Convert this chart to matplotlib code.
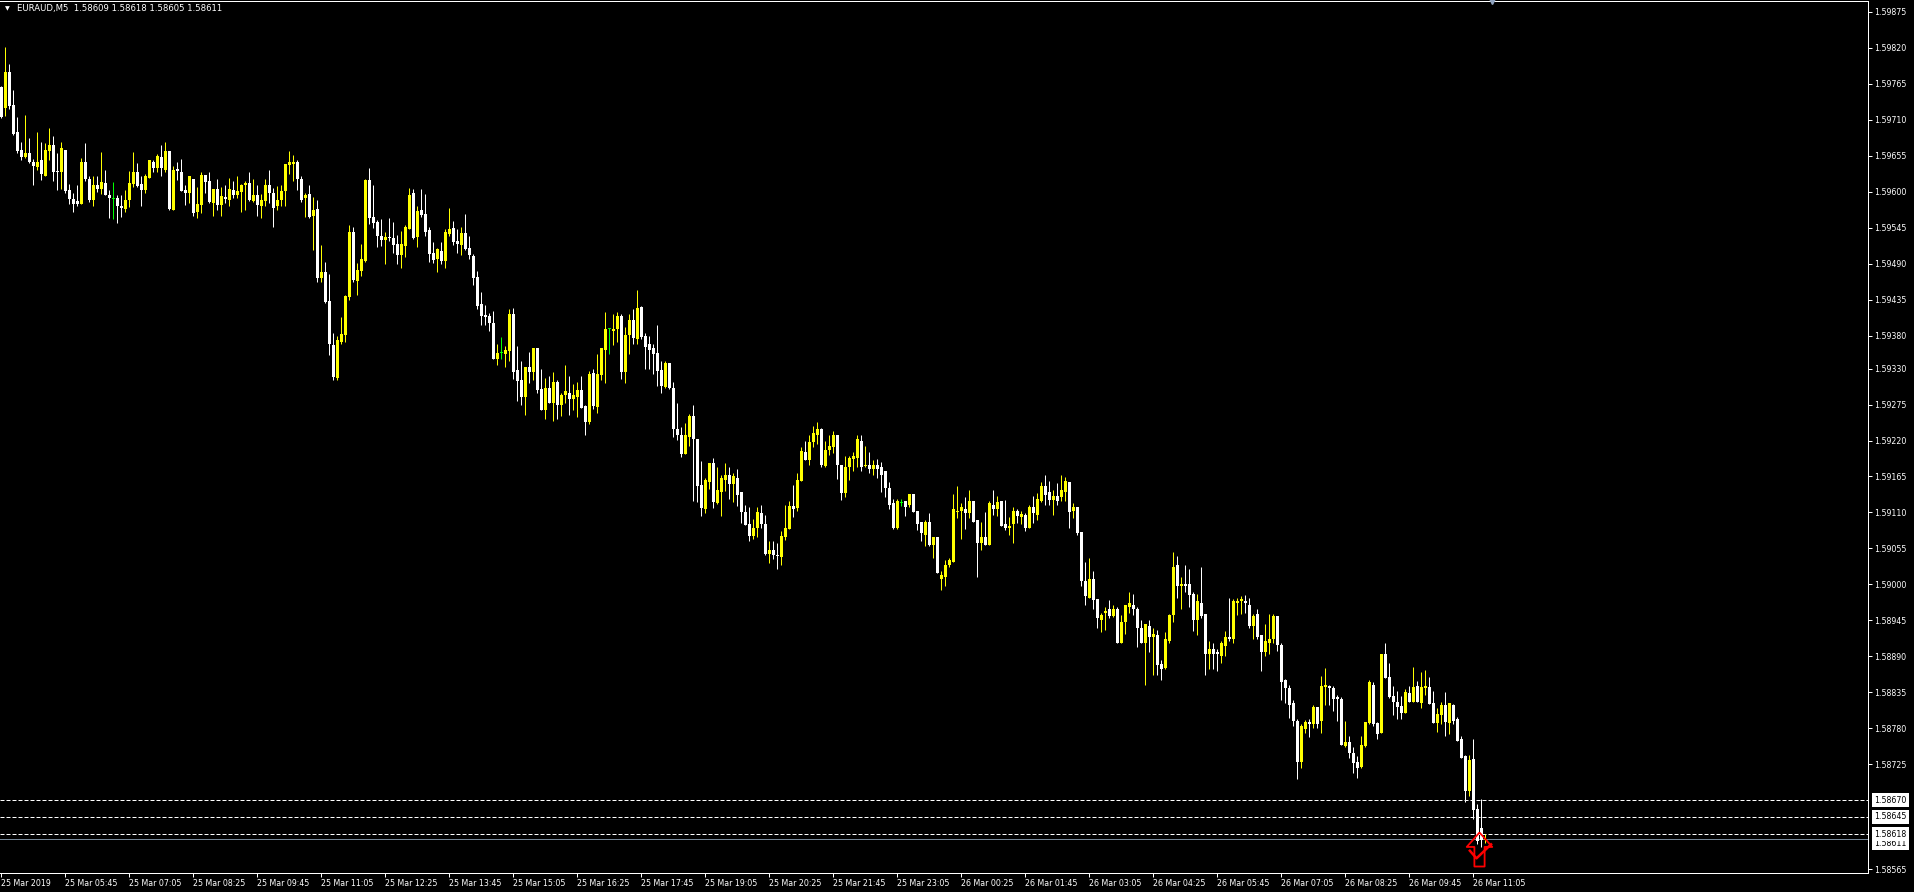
import numpy as np
import matplotlib
matplotlib.use("Agg")
import matplotlib.pyplot as plt
from matplotlib.path import Path

# EURAUD M5 bars, 25 Mar 04:25 .. 26 Mar 11:20
symbol = "EURAUD,M5"

opens = [
    1.59761, 1.59729, 1.59784, 1.59733, 1.59691, 1.59664, 1.59653, 1.59660, 1.59646, 1.59638,
    1.59648, 1.59625, 1.59663, 1.59671, 1.59632, 1.59630, 1.59664, 1.59603, 1.59589, 1.59586,
    1.59582, 1.59645, 1.59620, 1.59587, 1.59611, 1.59604, 1.59614, 1.59596, 1.59589, 1.59590,
    1.59579, 1.59574, 1.59588, 1.59612, 1.59631, 1.59612, 1.59603, 1.59621, 1.59646, 1.59636,
    1.59654, 1.59633, 1.59662, 1.59572, 1.59635, 1.59631, 1.59603, 1.59598, 1.59619, 1.59569,
    1.59580, 1.59626, 1.59617, 1.59583, 1.59605, 1.59580, 1.59592, 1.59588, 1.59603, 1.59595,
    1.59600, 1.59611, 1.59613, 1.59586, 1.59595, 1.59578, 1.59586, 1.59610, 1.59599, 1.59578,
    1.59587, 1.59602, 1.59641, 1.59642, 1.59645, 1.59620, 1.59590, 1.59597, 1.59563, 1.59574,
    1.59469, 1.59478, 1.59433, 1.59366, 1.59315, 1.59371, 1.59381, 1.59440, 1.59539, 1.59464,
    1.59479, 1.59494, 1.59618, 1.59562, 1.59554, 1.59533, 1.59527, 1.59531, 1.59529, 1.59521,
    1.59504, 1.59517, 1.59544, 1.59599, 1.59531, 1.59572, 1.59566, 1.59541, 1.59506, 1.59497,
    1.59510, 1.59494, 1.59536, 1.59545, 1.59525, 1.59519, 1.59537, 1.59514, 1.59502, 1.59470,
    1.59428, 1.59412, 1.59411, 1.59400, 1.59344, 1.59354, 1.59352, 1.59357, 1.59413, 1.59327,
    1.59312, 1.59287, 1.59333, 1.59324, 1.59361, 1.59298, 1.59267, 1.59301, 1.59277, 1.59310,
    1.59274, 1.59289, 1.59292, 1.59284, 1.59287, 1.59297, 1.59272, 1.59248, 1.59323, 1.59271,
    1.59320, 1.59358, 1.59390, 1.59387, 1.59391, 1.59410, 1.59325, 1.59382, 1.59404, 1.59375,
    1.59424, 1.59379, 1.59367, 1.59361, 1.59353, 1.59327, 1.59302, 1.59338, 1.59300, 1.59238,
    1.59228, 1.59200, 1.59226, 1.59258, 1.59222, 1.59152, 1.59115, 1.59157, 1.59185, 1.59124,
    1.59141, 1.59160, 1.59167, 1.59153, 1.59163, 1.59141, 1.59111, 1.59092, 1.59074, 1.59086,
    1.59109, 1.59093, 1.59047, 1.59053, 1.59045, 1.59042, 1.59072, 1.59084, 1.59120, 1.59117,
    1.59158, 1.59202, 1.59190, 1.59217, 1.59229, 1.59237, 1.59181, 1.59205, 1.59210, 1.59229,
    1.59183, 1.59139, 1.59179, 1.59192, 1.59193, 1.59220, 1.59181, 1.59183, 1.59176, 1.59182,
    1.59179, 1.59173, 1.59148, 1.59125, 1.59086, 1.59125, 1.59128, 1.59121, 1.59138, 1.59112,
    1.59095, 1.59076, 1.59095, 1.59061, 1.59072, 1.59008, 1.59012, 1.59030, 1.59035, 1.59110,
    1.59113, 1.59116, 1.59109, 1.59128, 1.59098, 1.59063, 1.59073, 1.59061, 1.59121, 1.59115,
    1.59127, 1.59092, 1.59086, 1.59092, 1.59112, 1.59103, 1.59106, 1.59087, 1.59118, 1.59106,
    1.59127, 1.59150, 1.59141, 1.59129, 1.59135, 1.59133, 1.59142, 1.59156, 1.59112, 1.59119,
    1.59080, 1.59005, 1.58980, 1.59008, 1.58977, 1.58945, 1.58956, 1.58963, 1.58951, 1.58963,
    1.58910, 1.58942, 1.58965, 1.58969, 1.58963, 1.58934, 1.58911, 1.58937, 1.58919, 1.58923,
    1.58879, 1.58872, 1.58913, 1.58954, 1.59029, 1.58998, 1.59001, 1.59000, 1.58986, 1.58946,
    1.58972, 1.58955, 1.58894, 1.58902, 1.58897, 1.58890, 1.58906, 1.58920, 1.58916, 1.58971,
    1.58974, 1.58975, 1.58969, 1.58936, 1.58955, 1.58922, 1.58897, 1.58910, 1.58916, 1.58951,
    1.58908, 1.58854, 1.58842, 1.58818, 1.58792, 1.58729, 1.58779, 1.58790, 1.58787, 1.58812,
    1.58791, 1.58843, 1.58844, 1.58841, 1.58828, 1.58825, 1.58753, 1.58759, 1.58743, 1.58728,
    1.58721, 1.58753, 1.58788, 1.58847, 1.58788, 1.58773, 1.58893, 1.58858, 1.58829, 1.58821,
    1.58814, 1.58803, 1.58834, 1.58820, 1.58844, 1.58818, 1.58841, 1.58843, 1.58818, 1.58788,
    1.58800, 1.58815, 1.58788, 1.58815, 1.58794, 1.58763, 1.58737, 1.58685, 1.58733, 1.58656,
    1.58628, 1.58609,
]

highs = [
    1.59762, 1.59822, 1.59796, 1.59756, 1.59715, 1.59677, 1.59718, 1.59683, 1.59651, 1.59692,
    1.59677, 1.59674, 1.59698, 1.59686, 1.59660, 1.59677, 1.59664, 1.59612, 1.59598, 1.59611,
    1.59652, 1.59674, 1.59624, 1.59624, 1.59625, 1.59661, 1.59633, 1.59603, 1.59615, 1.59595,
    1.59596, 1.59603, 1.59632, 1.59661, 1.59644, 1.59624, 1.59628, 1.59648, 1.59649, 1.59658,
    1.59671, 1.59677, 1.59662, 1.59640, 1.59646, 1.59651, 1.59610, 1.59625, 1.59620, 1.59608,
    1.59631, 1.59626, 1.59630, 1.59605, 1.59619, 1.59608, 1.59611, 1.59622, 1.59616, 1.59625,
    1.59612, 1.59616, 1.59631, 1.59619, 1.59610, 1.59597, 1.59620, 1.59634, 1.59606, 1.59609,
    1.59611, 1.59643, 1.59662, 1.59657, 1.59649, 1.59625, 1.59598, 1.59611, 1.59592, 1.59587,
    1.59519, 1.59493, 1.59474, 1.59384, 1.59379, 1.59409, 1.59443, 1.59549, 1.59547, 1.59492,
    1.59520, 1.59620, 1.59636, 1.59611, 1.59557, 1.59559, 1.59538, 1.59560, 1.59554, 1.59534,
    1.59540, 1.59549, 1.59606, 1.59604, 1.59579, 1.59604, 1.59597, 1.59547, 1.59524, 1.59514,
    1.59524, 1.59543, 1.59575, 1.59555, 1.59543, 1.59546, 1.59566, 1.59533, 1.59505, 1.59479,
    1.59447, 1.59427, 1.59415, 1.59418, 1.59367, 1.59378, 1.59364, 1.59421, 1.59422, 1.59365,
    1.59342, 1.59333, 1.59356, 1.59362, 1.59362, 1.59329, 1.59315, 1.59318, 1.59325, 1.59312,
    1.59292, 1.59336, 1.59318, 1.59307, 1.59309, 1.59318, 1.59274, 1.59326, 1.59330, 1.59352,
    1.59361, 1.59416, 1.59392, 1.59413, 1.59416, 1.59413, 1.59393, 1.59413, 1.59421, 1.59450,
    1.59425, 1.59384, 1.59379, 1.59367, 1.59396, 1.59341, 1.59341, 1.59338, 1.59309, 1.59278,
    1.59241, 1.59246, 1.59261, 1.59274, 1.59222, 1.59189, 1.59162, 1.59186, 1.59193, 1.59179,
    1.59168, 1.59186, 1.59180, 1.59171, 1.59176, 1.59141, 1.59121, 1.59119, 1.59100, 1.59118,
    1.59121, 1.59106, 1.59066, 1.59067, 1.59063, 1.59082, 1.59121, 1.59127, 1.59152, 1.59170,
    1.59210, 1.59219, 1.59229, 1.59242, 1.59248, 1.59239, 1.59219, 1.59229, 1.59234, 1.59229,
    1.59183, 1.59197, 1.59197, 1.59202, 1.59228, 1.59228, 1.59211, 1.59203, 1.59190, 1.59191,
    1.59187, 1.59173, 1.59157, 1.59131, 1.59130, 1.59131, 1.59128, 1.59138, 1.59138, 1.59113,
    1.59095, 1.59098, 1.59109, 1.59072, 1.59073, 1.59021, 1.59038, 1.59040, 1.59138, 1.59151,
    1.59124, 1.59134, 1.59144, 1.59128, 1.59098, 1.59095, 1.59110, 1.59128, 1.59144, 1.59135,
    1.59127, 1.59129, 1.59103, 1.59119, 1.59116, 1.59112, 1.59109, 1.59122, 1.59135, 1.59139,
    1.59156, 1.59168, 1.59158, 1.59145, 1.59155, 1.59167, 1.59164, 1.59156, 1.59124, 1.59119,
    1.59080, 1.59034, 1.59040, 1.59021, 1.58977, 1.58957, 1.58965, 1.58976, 1.58969, 1.58966,
    1.58953, 1.58968, 1.58989, 1.58986, 1.58966, 1.58946, 1.58940, 1.58946, 1.58934, 1.58931,
    1.58885, 1.58928, 1.58955, 1.59050, 1.59044, 1.59011, 1.59030, 1.59024, 1.58988, 1.58986,
    1.59027, 1.58955, 1.58914, 1.58911, 1.58902, 1.58914, 1.58929, 1.58980, 1.58978, 1.58980,
    1.58983, 1.58984, 1.58980, 1.58955, 1.58962, 1.58922, 1.58940, 1.58955, 1.58955, 1.58951,
    1.58910, 1.58856, 1.58847, 1.58824, 1.58795, 1.58786, 1.58793, 1.58795, 1.58815, 1.58813,
    1.58860, 1.58872, 1.58847, 1.58844, 1.58831, 1.58828, 1.58792, 1.58769, 1.58751, 1.58737,
    1.58769, 1.58789, 1.58854, 1.58851, 1.58789, 1.58893, 1.58910, 1.58880, 1.58844, 1.58837,
    1.58829, 1.58840, 1.58844, 1.58874, 1.58852, 1.58866, 1.58869, 1.58858, 1.58837, 1.58811,
    1.58820, 1.58835, 1.58818, 1.58817, 1.58797, 1.58769, 1.58739, 1.58740, 1.58763, 1.58664,
    1.58672, 1.58618,
]

lows = [
    1.59713, 1.59716, 1.59726, 1.59687, 1.59660, 1.59649, 1.59652, 1.59644, 1.59611, 1.59634,
    1.59618, 1.59624, 1.59649, 1.59617, 1.59603, 1.59605, 1.59598, 1.59581, 1.59570, 1.59578,
    1.59582, 1.59617, 1.59585, 1.59579, 1.59600, 1.59597, 1.59595, 1.59560, 1.59559, 1.59553,
    1.59561, 1.59570, 1.59577, 1.59608, 1.59607, 1.59579, 1.59598, 1.59621, 1.59631, 1.59631,
    1.59625, 1.59631, 1.59572, 1.59572, 1.59618, 1.59602, 1.59580, 1.59583, 1.59563, 1.59560,
    1.59567, 1.59599, 1.59583, 1.59563, 1.59572, 1.59563, 1.59583, 1.59578, 1.59590, 1.59590,
    1.59569, 1.59572, 1.59586, 1.59585, 1.59563, 1.59560, 1.59579, 1.59583, 1.59546, 1.59572,
    1.59579, 1.59578, 1.59627, 1.59616, 1.59603, 1.59585, 1.59561, 1.59560, 1.59511, 1.59462,
    1.59462, 1.59430, 1.59351, 1.59312, 1.59312, 1.59367, 1.59371, 1.59435, 1.59462, 1.59442,
    1.59472, 1.59493, 1.59551, 1.59545, 1.59516, 1.59518, 1.59490, 1.59525, 1.59507, 1.59490,
    1.59484, 1.59501, 1.59543, 1.59528, 1.59516, 1.59562, 1.59532, 1.59493, 1.59491, 1.59477,
    1.59490, 1.59484, 1.59532, 1.59519, 1.59507, 1.59503, 1.59511, 1.59497, 1.59457, 1.59421,
    1.59396, 1.59397, 1.59388, 1.59345, 1.59336, 1.59344, 1.59332, 1.59341, 1.59314, 1.59281,
    1.59275, 1.59259, 1.59308, 1.59312, 1.59293, 1.59266, 1.59253, 1.59278, 1.59250, 1.59253,
    1.59257, 1.59278, 1.59259, 1.59267, 1.59256, 1.59269, 1.59229, 1.59245, 1.59268, 1.59262,
    1.59313, 1.59308, 1.59352, 1.59366, 1.59370, 1.59314, 1.59308, 1.59352, 1.59368, 1.59368,
    1.59375, 1.59330, 1.59330, 1.59321, 1.59304, 1.59293, 1.59300, 1.59298, 1.59226, 1.59221,
    1.59195, 1.59199, 1.59211, 1.59127, 1.59126, 1.59104, 1.59109, 1.59146, 1.59117, 1.59123,
    1.59104, 1.59143, 1.59130, 1.59126, 1.59120, 1.59094, 1.59091, 1.59066, 1.59069, 1.59072,
    1.59087, 1.59045, 1.59032, 1.59039, 1.59023, 1.59029, 1.59068, 1.59084, 1.59103, 1.59113,
    1.59158, 1.59190, 1.59182, 1.59210, 1.59215, 1.59179, 1.59179, 1.59198, 1.59201, 1.59161,
    1.59129, 1.59134, 1.59160, 1.59174, 1.59179, 1.59174, 1.59179, 1.59171, 1.59168, 1.59163,
    1.59141, 1.59134, 1.59115, 1.59084, 1.59084, 1.59120, 1.59104, 1.59119, 1.59110, 1.59083,
    1.59067, 1.59059, 1.59059, 1.59041, 1.59018, 1.58991, 1.58998, 1.59026, 1.59035, 1.59101,
    1.59069, 1.59084, 1.59101, 1.59095, 1.59012, 1.59052, 1.59061, 1.59060, 1.59106, 1.59105,
    1.59090, 1.59083, 1.59075, 1.59063, 1.59094, 1.59093, 1.59081, 1.59087, 1.59094, 1.59098,
    1.59126, 1.59121, 1.59122, 1.59106, 1.59122, 1.59127, 1.59127, 1.59087, 1.59101, 1.59075,
    1.58997, 1.58968, 1.58980, 1.58962, 1.58933, 1.58927, 1.58931, 1.58948, 1.58950, 1.58910,
    1.58910, 1.58924, 1.58956, 1.58954, 1.58904, 1.58911, 1.58846, 1.58896, 1.58862, 1.58861,
    1.58854, 1.58871, 1.58911, 1.58942, 1.58980, 1.58962, 1.58988, 1.58965, 1.58929, 1.58922,
    1.58948, 1.58861, 1.58871, 1.58871, 1.58867, 1.58880, 1.58890, 1.58914, 1.58911, 1.58954,
    1.58955, 1.58957, 1.58934, 1.58916, 1.58917, 1.58867, 1.58891, 1.58893, 1.58910, 1.58899,
    1.58824, 1.58818, 1.58796, 1.58784, 1.58703, 1.58720, 1.58773, 1.58767, 1.58781, 1.58781,
    1.58773, 1.58815, 1.58815, 1.58806, 1.58791, 1.58754, 1.58751, 1.58734, 1.58711, 1.58704,
    1.58719, 1.58751, 1.58786, 1.58783, 1.58763, 1.58773, 1.58857, 1.58826, 1.58800, 1.58794,
    1.58795, 1.58803, 1.58820, 1.58820, 1.58820, 1.58811, 1.58831, 1.58817, 1.58788, 1.58774,
    1.58786, 1.58769, 1.58771, 1.58786, 1.58760, 1.58734, 1.58667, 1.58676, 1.58641, 1.58603,
    1.58598, 1.58605,
]

closes = [
    1.59714, 1.59783, 1.59732, 1.59689, 1.59663, 1.59654, 1.59660, 1.59645, 1.59640, 1.59646,
    1.59627, 1.59664, 1.59671, 1.59631, 1.59630, 1.59667, 1.59602, 1.59589, 1.59582, 1.59582,
    1.59645, 1.59620, 1.59588, 1.59610, 1.59604, 1.59615, 1.59595, 1.59590, 1.59589, 1.59578,
    1.59576, 1.59588, 1.59614, 1.59631, 1.59609, 1.59603, 1.59624, 1.59648, 1.59636, 1.59655,
    1.59636, 1.59662, 1.59574, 1.59634, 1.59632, 1.59602, 1.59598, 1.59624, 1.59567, 1.59582,
    1.59626, 1.59615, 1.59584, 1.59605, 1.59580, 1.59594, 1.59589, 1.59605, 1.59596, 1.59602,
    1.59611, 1.59613, 1.59587, 1.59595, 1.59580, 1.59587, 1.59610, 1.59598, 1.59576, 1.59588,
    1.59602, 1.59642, 1.59645, 1.59645, 1.59619, 1.59588, 1.59596, 1.59562, 1.59573, 1.59469,
    1.59477, 1.59432, 1.59367, 1.59317, 1.59374, 1.59383, 1.59441, 1.59539, 1.59465, 1.59481,
    1.59498, 1.59618, 1.59560, 1.59553, 1.59533, 1.59527, 1.59531, 1.59529, 1.59519, 1.59504,
    1.59520, 1.59547, 1.59596, 1.59530, 1.59571, 1.59565, 1.59539, 1.59505, 1.59496, 1.59512,
    1.59494, 1.59539, 1.59543, 1.59524, 1.59520, 1.59537, 1.59512, 1.59504, 1.59469, 1.59426,
    1.59411, 1.59409, 1.59399, 1.59345, 1.59353, 1.59354, 1.59358, 1.59413, 1.59325, 1.59311,
    1.59287, 1.59332, 1.59324, 1.59362, 1.59297, 1.59266, 1.59301, 1.59278, 1.59309, 1.59275,
    1.59289, 1.59295, 1.59283, 1.59290, 1.59297, 1.59269, 1.59248, 1.59321, 1.59273, 1.59321,
    1.59361, 1.59390, 1.59390, 1.59390, 1.59410, 1.59325, 1.59382, 1.59404, 1.59376, 1.59422,
    1.59378, 1.59363, 1.59359, 1.59352, 1.59326, 1.59303, 1.59338, 1.59300, 1.59238, 1.59228,
    1.59199, 1.59228, 1.59258, 1.59222, 1.59150, 1.59117, 1.59159, 1.59185, 1.59126, 1.59144,
    1.59162, 1.59167, 1.59153, 1.59165, 1.59136, 1.59110, 1.59091, 1.59074, 1.59087, 1.59110,
    1.59092, 1.59046, 1.59053, 1.59045, 1.59043, 1.59074, 1.59086, 1.59120, 1.59115, 1.59160,
    1.59204, 1.59190, 1.59217, 1.59231, 1.59237, 1.59182, 1.59206, 1.59211, 1.59229, 1.59182,
    1.59139, 1.59179, 1.59193, 1.59196, 1.59222, 1.59180, 1.59183, 1.59177, 1.59182, 1.59176,
    1.59168, 1.59148, 1.59122, 1.59086, 1.59127, 1.59125, 1.59119, 1.59138, 1.59110, 1.59093,
    1.59078, 1.59095, 1.59061, 1.59072, 1.59018, 1.59014, 1.59030, 1.59037, 1.59115, 1.59113,
    1.59118, 1.59109, 1.59128, 1.59096, 1.59064, 1.59073, 1.59061, 1.59125, 1.59116, 1.59126,
    1.59090, 1.59087, 1.59090, 1.59113, 1.59104, 1.59107, 1.59087, 1.59118, 1.59109, 1.59130,
    1.59150, 1.59136, 1.59129, 1.59135, 1.59127, 1.59144, 1.59158, 1.59110, 1.59119, 1.59078,
    1.59005, 1.58982, 1.59008, 1.58976, 1.58948, 1.58953, 1.58959, 1.58951, 1.58963, 1.58910,
    1.58943, 1.58968, 1.58971, 1.58962, 1.58933, 1.58911, 1.58939, 1.58920, 1.58924, 1.58877,
    1.58871, 1.58916, 1.58954, 1.59027, 1.58997, 1.59001, 1.58998, 1.58984, 1.58946, 1.58975,
    1.58952, 1.58894, 1.58902, 1.58894, 1.58893, 1.58910, 1.58919, 1.58916, 1.58974, 1.58975,
    1.58977, 1.58971, 1.58936, 1.58952, 1.58919, 1.58896, 1.58914, 1.58916, 1.58951, 1.58908,
    1.58851, 1.58842, 1.58816, 1.58792, 1.58729, 1.58784, 1.58789, 1.58787, 1.58813, 1.58787,
    1.58844, 1.58846, 1.58841, 1.58825, 1.58825, 1.58754, 1.58759, 1.58742, 1.58727, 1.58719,
    1.58754, 1.58789, 1.58851, 1.58786, 1.58771, 1.58893, 1.58857, 1.58828, 1.58820, 1.58812,
    1.58803, 1.58835, 1.58820, 1.58843, 1.58820, 1.58843, 1.58844, 1.58817, 1.58788, 1.58802,
    1.58815, 1.58789, 1.58818, 1.58791, 1.58760, 1.58734, 1.58685, 1.58731, 1.58655, 1.58608,
    1.58609, 1.58611,
]

# time scale labels, one every 16 bars
time_labels = [
    "25 Mar 2019", "25 Mar 05:45", "25 Mar 07:05", "25 Mar 08:25", "25 Mar 09:45",
    "25 Mar 11:05", "25 Mar 12:25", "25 Mar 13:45", "25 Mar 15:05", "25 Mar 16:25",
    "25 Mar 17:45", "25 Mar 19:05", "25 Mar 20:25", "25 Mar 21:45", "25 Mar 23:05",
    "26 Mar 00:25", "26 Mar 01:45", "26 Mar 03:05", "26 Mar 04:25", "26 Mar 05:45",
    "26 Mar 07:05", "26 Mar 08:25", "26 Mar 09:45", "26 Mar 11:05",
]
label_every = 16

price_ticks = [
    1.59875, 1.59820, 1.59765, 1.59710, 1.59655, 1.59600, 1.59545, 1.59490,
    1.59435, 1.59380, 1.59330, 1.59275, 1.59220, 1.59165, 1.59110, 1.59055,
    1.59000, 1.58945, 1.58890, 1.58835, 1.58780, 1.58725, 1.58565,
]

# dashed level lines and the bid line
levels = [1.58670, 1.58645, 1.58618]
bid = 1.58611

# "thumbs up" object near the last bars
signal_bar = 369.3
signal_price = 1.58596

# ---- layout (MT4 draws 4 px per bar at this zoom) ----
W, H = 1915, 892
plot_right = 1868
plot_top, plot_bottom = 1, 873
bar_px = 4
price_top, price_bottom = 1.598918, 1.585589

plt.rcParams['font.family'] = ['DejaVu Sans']
fsize = 5.7

o = np.array(opens)
hi = np.array(highs)
lo = np.array(lows)
c = np.array(closes)
idx = np.arange(len(o))

fig = plt.figure(figsize=(W / 100, H / 100), dpi=100, facecolor='black')
ax = fig.add_axes([0, (H - plot_bottom) / H, plot_right / W, (plot_bottom - plot_top) / H])
ax.set_facecolor('black')
ax.set_xlim(-0.375, -0.375 + plot_right / bar_px)
ax.set_ylim(price_bottom, price_top)

px_price = (price_top - price_bottom) / (plot_bottom - plot_top)

# candles: yellow = up, white = down, lime = doji
colors = np.where(c > o, '#ffff00', np.where(c < o, '#ffffff', '#00ff00'))
ax.vlines(idx, lo, hi, colors=colors, linewidth=0.72, zorder=3)
body_lo = np.minimum(o, c)
body_h = np.maximum(np.abs(c - o), px_price)
ax.bar(idx, body_h, width=0.75, bottom=body_lo, color=colors, linewidth=0, zorder=4)

# level lines
for lv in levels:
    ax.axhline(lv, color='white', linewidth=0.72, linestyle=(0, (4, 2)), zorder=2)
ax.axhline(bid, color='#778899', linewidth=0.72, zorder=2)

# price scale on the right
ax.yaxis.tick_right()
ax.set_yticks(price_ticks)
ax.set_yticklabels([f"{p:.5f}" for p in price_ticks])
ax.tick_params(axis='y', direction='out', length=2.9, width=0.72, color='white',
               labelcolor='white', labelsize=fsize, pad=1.5)

# time scale
ax.set_xticks(np.arange(len(time_labels)) * label_every)
ax.set_xticklabels(time_labels, ha='left')
ax.tick_params(axis='x', direction='out', length=2.9, width=0.72, color='white',
               labelcolor='white', labelsize=fsize, pad=1.2)

for side in ['top', 'right', 'bottom']:
    ax.spines[side].set_color('white')
    ax.spines[side].set_linewidth(0.72)
ax.spines['left'].set_visible(False)

# boxed labels for the level lines; the bid box peeks out under the 1.58618 box
ytr = ax.get_yaxis_transform()
box = dict(boxstyle='square,pad=0.3', fc='white', ec='none')
ax.text(1 + 6 / plot_right, bid, f"{bid:.5f}", transform=ytr, color='black',
        fontsize=fsize, va='top', ha='left', clip_on=False, zorder=10, bbox=box)
for k, lv in enumerate(levels[::-1]):
    ax.text(1 + 6 / plot_right, lv, f"{lv:.5f}", transform=ytr, color='black',
            fontsize=fsize, va='center', ha='left', clip_on=False, zorder=11 + k,
            bbox=box)

# header
fig.text(17 / W, 1 - 8 / H,
         f"{symbol}  {o[-1]:.5f} {hi[-1]:.5f} {lo[-1]:.5f} {c[-1]:.5f}",
         color='white', fontsize=6.1, va='center', ha='left')
fig.text(5 / W, 1 - 9 / H, '\u25bc', color='white', fontsize=4.5, va='center', ha='left')

# chart shift marker at the top
ax.plot(1492 / plot_right, 1.0, transform=ax.transAxes, marker='v', ms=5,
        color='#8fa3bf', clip_on=False, zorder=12)

# red signal object: outlined up arrow with a check mark
arrow = Path([(0, 1), (0.75, 0.15), (0.3, 0.15), (0.3, -1), (-0.3, -1),
              (-0.3, 0.15), (-0.75, 0.15), (0, 1)])
check = Path([(-1, 0.15), (-0.35, -0.6), (1, 0.7)])
ax.plot(signal_bar, signal_price, marker=arrow, ms=24.5, mfc='none', mec='red',
        mew=1.3, zorder=8)
ax.plot(signal_bar + 0.3, signal_price - 2 * px_price, marker=check, ms=16.5,
        mfc='none', mec='red', mew=1.8, zorder=9)

fig.savefig('out.png', dpi=100, facecolor='black')
